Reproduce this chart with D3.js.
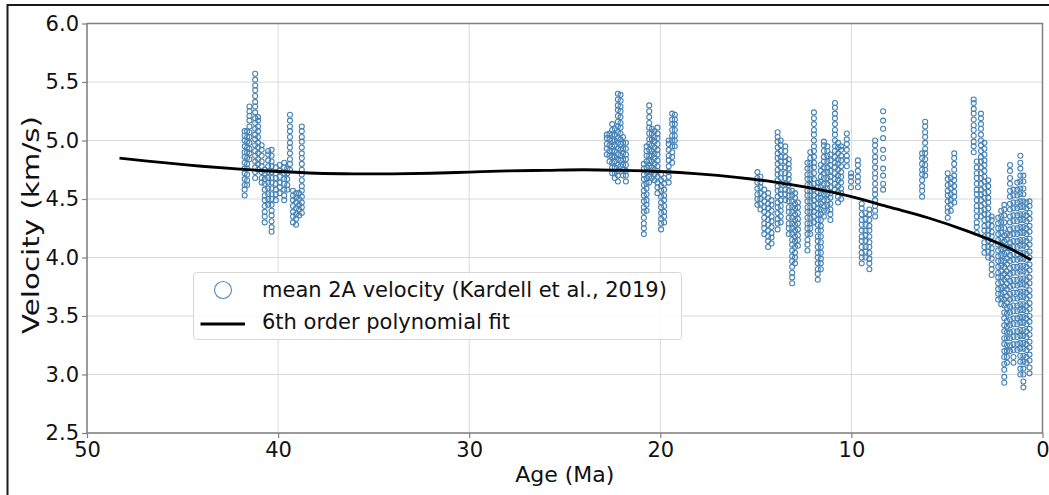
<!DOCTYPE html>
<html>
<head>
<meta charset="utf-8">
<script src="https://cdn.jsdelivr.net/npm/d3@7"></script>
<style>
  html, body { margin: 0; padding: 0; background: #fff; }
  svg { display: block; }
  text { font-family: "DejaVu Sans", sans-serif; fill: #111; }
</style>
</head>
<body>
<svg id="chart" width="1049" height="495"></svg>
<script>
// ---------------- data ----------------
const xTicks = [50, 40, 30, 20, 10, 0];
const yTicks = [2.5, 3.0, 3.5, 4.0, 4.5, 5.0, 5.5, 6.0];
const xLabel = "Age (Ma)";
const yLabel = "Velocity (km/s)";
const legendLabels = ["mean 2A velocity (Kardell et al., 2019)", "6th order polynomial fit"];

// 6th order polynomial fit
const fitAge = [48.3, 46, 44, 42, 40, 38, 36, 34, 32, 30, 28, 26, 24, 22, 20, 18, 16, 14, 12, 10, 8, 6, 4, 2, 0.6];
const fitVel = [4.85, 4.81, 4.78, 4.755, 4.735, 4.72, 4.715, 4.715, 4.72, 4.73, 4.74, 4.745, 4.75, 4.745, 4.735, 4.715, 4.685, 4.645, 4.59, 4.52, 4.43, 4.34, 4.23, 4.10, 3.98];

// mean 2A velocity samples: [age, [velocities at that age]]
const samplesOld = [
  [41.75, [4.53,4.58,4.62,4.67,4.72,4.76,4.81,4.86,4.90,4.95,5.00,5.04,5.08]],
  [41.62, [4.62,4.66,4.71,4.76,4.80,4.85,4.90,4.94,4.99,5.03,5.08]],
  [41.50, [4.84,4.89,4.93,4.98,5.03,5.07,5.12,5.17,5.21,5.25,5.29]],
  [41.20, [4.68,4.73,4.77,4.82,4.87,4.91,4.96,5.01,5.05,5.10,5.15,5.19,5.24,5.29,5.33,5.38,5.43,5.47,5.52,5.57]],
  [41.05, [4.75,4.80,4.84,4.89,4.94,4.98,5.03,5.08,5.12,5.17,5.20]],
  [40.86, [4.64,4.68,4.73,4.78,4.82,4.87,4.92,4.96]],
  [40.70, [4.30,4.35,4.39,4.44,4.49,4.53,4.58,4.63,4.67,4.72,4.75]],
  [40.52, [4.45,4.50,4.54,4.59,4.64,4.68,4.73,4.78,4.83,4.88,4.91]],
  [40.34, [4.22,4.26,4.31,4.36,4.40,4.45,4.50,4.54,4.59,4.64,4.68,4.73,4.78,4.82,4.87,4.92]],
  [40.12, [4.49,4.54,4.58,4.63,4.68,4.72,4.77]],
  [39.92, [4.55,4.60,4.64,4.69,4.74,4.79]],
  [39.68, [4.49,4.53,4.58,4.63,4.67,4.72,4.77,4.81]],
  [39.52, [4.58,4.62,4.67,4.72,4.76]],
  [39.38, [4.75,4.80,4.84,4.89,4.94,4.98,5.03,5.08,5.12,5.17,5.22]],
  [39.22, [4.30,4.35,4.39,4.44,4.49,4.53,4.57]],
  [39.06, [4.28,4.33,4.37,4.42,4.47,4.51,4.55]],
  [38.90, [4.36,4.41,4.45,4.50,4.55]],
  [38.76, [4.38,4.43,4.47,4.52,4.57,4.61,4.66,4.71,4.75,4.80,4.85,4.89,4.94,4.99,5.03,5.08,5.12]]
];

const samplesMid = [
  [22.80, [4.88,4.93,4.97,5.02,5.05]],
  [22.66, [4.82,4.87,4.91,4.96,5.01,5.06]],
  [22.52, [4.72,4.77,4.81,4.86,4.91,4.95,5.00,5.05,5.09,5.14]],
  [22.38, [4.68,4.72,4.77,4.82,4.86,4.91,4.96,5.00,5.05,5.10]],
  [22.22, [4.65,4.70,4.74,4.79,4.84,4.88,4.93,4.98,5.02,5.07,5.12,5.16,5.21,5.26,5.30,5.35,5.40]],
  [22.08, [4.78,4.83,4.87,4.92,4.97,5.01,5.06,5.11,5.15,5.20,5.25,5.29,5.34,5.39]],
  [21.95, [4.70,4.75,4.79,4.84,4.89,4.93,4.98,5.03]],
  [21.80, [4.65,4.70,4.74,4.79,4.84,4.88,4.93,4.98]],
  [20.86, [4.20,4.25,4.29,4.34,4.39,4.43,4.48,4.53,4.57,4.62,4.67,4.71,4.76,4.80]],
  [20.72, [4.40,4.45,4.49,4.54,4.59,4.63,4.68,4.73,4.77,4.82,4.87,4.91,4.95]],
  [20.58, [4.64,4.69,4.73,4.78,4.83,4.87,4.92,4.97,5.01,5.06,5.11,5.15,5.20,5.25,5.30]],
  [20.44, [4.68,4.73,4.77,4.82,4.87,4.91,4.96,5.01,5.06,5.10]],
  [20.30, [4.66,4.71,4.75,4.80,4.85,4.89,4.94,4.99,5.03,5.08]],
  [20.15, [4.55,4.60,4.64,4.69,4.74,4.78,4.83,4.88,4.92,4.97,5.02,5.06,5.11]],
  [19.96, [4.24,4.29,4.33,4.38,4.43,4.47,4.52,4.57,4.61,4.66,4.71]],
  [19.80, [4.30,4.35,4.39,4.44,4.49,4.53,4.58,4.63,4.68]],
  [19.56, [4.64,4.69,4.73,4.78,4.83,4.87,4.92,4.97,5.00]],
  [19.38, [4.81,4.86,4.90,4.95,5.00,5.04,5.09,5.14,5.18,5.23]],
  [19.24, [4.95,5.00,5.04,5.09,5.14,5.18,5.22]]
];

const samplesYoung = [
  [14.92, [4.45,4.50,4.54,4.59,4.64,4.68,4.73]],
  [14.76, [4.41,4.46,4.50,4.55,4.60,4.64,4.69]],
  [14.56, [4.20,4.25,4.29,4.34,4.39,4.43,4.48,4.53,4.58]],
  [14.36, [4.09,4.14,4.18,4.23,4.28,4.32,4.37,4.42,4.46,4.51,4.55]],
  [14.18, [4.12,4.17,4.21,4.26,4.31,4.35,4.40,4.45,4.49]],
  [13.86, [4.24,4.29,4.33,4.38,4.43,4.47,4.52,4.57,4.61,4.66,4.71,4.75,4.80,4.85,4.89,4.94,4.99,5.03,5.07]],
  [13.70, [4.30,4.35,4.40,4.44,4.49,4.54,4.58,4.63,4.68,4.72,4.77,4.82,4.86,4.91,4.96,5.00]],
  [13.46, [4.49,4.54,4.58,4.63,4.68,4.72,4.77,4.82,4.86,4.91,4.95]],
  [13.28, [4.20,4.25,4.29,4.34,4.39,4.43,4.48,4.53,4.57,4.62,4.67,4.71,4.76,4.80,4.84]],
  [13.10, [3.78,3.83,3.87,3.92,3.97,4.01,4.06,4.11,4.15,4.20,4.25,4.29,4.34,4.39,4.43,4.48,4.53,4.57]],
  [12.95, [3.95,4.00,4.04,4.09,4.14,4.18,4.23,4.28,4.32,4.37,4.42,4.46,4.51,4.55]],
  [12.80, [4.10,4.15,4.19,4.24,4.29,4.33,4.38,4.43,4.47]],
  [12.30, [4.06,4.11,4.15,4.20,4.25,4.29,4.34,4.39,4.43,4.48,4.53,4.57,4.62,4.67,4.71,4.76,4.81]],
  [12.15, [4.20,4.25,4.29,4.34,4.39,4.43,4.48,4.53,4.57,4.62,4.67,4.71,4.76,4.81,4.85,4.90]],
  [11.96, [4.30,4.35,4.39,4.44,4.49,4.53,4.58,4.63,4.67,4.72,4.77,4.81,4.86,4.91,4.95,5.00,5.05,5.09,5.14,5.19,5.24]],
  [11.76, [3.81,3.86,3.90,3.95,4.00,4.04,4.09,4.14,4.18,4.23,4.28,4.32,4.37,4.42,4.46,4.51,4.56,4.60,4.64]],
  [11.60, [3.90,3.95,3.99,4.04,4.09,4.13,4.18,4.23,4.27,4.32,4.37,4.41,4.46,4.51,4.55,4.60,4.65,4.69,4.74,4.79]],
  [11.44, [4.35,4.40,4.44,4.49,4.54,4.58,4.63,4.68,4.72,4.77,4.82,4.86,4.91,4.96,4.99]],
  [11.26, [4.40,4.45,4.49,4.54,4.59,4.63,4.68,4.73,4.77,4.82,4.87,4.91,4.95]],
  [11.10, [4.32,4.37,4.41,4.46,4.51,4.55,4.60,4.65,4.69,4.74,4.79,4.83,4.88]],
  [10.86, [4.58,4.63,4.67,4.72,4.77,4.81,4.86,4.91,4.95,5.00,5.05,5.09,5.14,5.19,5.23,5.28,5.32]],
  [10.70, [4.47,4.52,4.56,4.61,4.66,4.70,4.75,4.80,4.84,4.89,4.94,4.98]],
  [10.54, [4.50,4.55,4.59,4.64,4.69,4.73,4.78,4.83,4.87,4.92,4.95]],
  [10.24, [4.78,4.83,4.87,4.92,4.97,5.01,5.06]],
  [10.02, [4.60,4.65,4.69,4.72]],
  [9.66, [4.60,4.65,4.69,4.74,4.79,4.83]],
  [9.46, [3.95,4.00,4.04,4.09,4.14,4.18,4.23,4.28,4.32,4.37,4.42,4.46]],
  [9.26, [4.00,4.05,4.09,4.14,4.19,4.23,4.28,4.33,4.38]],
  [9.06, [3.90,3.95,3.99,4.04,4.09,4.13,4.18,4.23,4.27,4.32,4.37,4.41]],
  [8.76, [4.35,4.40,4.44,4.49,4.54,4.58,4.63,4.68,4.72,4.77,4.82,4.86,4.91,4.96,5.00]],
  [8.34, [4.58,4.63,4.70,4.76,4.85,4.92,5.02,5.10,5.17,5.25]],
  [6.30, [4.52,4.57,4.61,4.66,4.71,4.75,4.80,4.85,4.89]],
  [6.14, [4.70,4.75,4.79,4.84,4.89,4.93,4.98,5.03,5.07,5.12,5.16]],
  [4.96, [4.34,4.39,4.43,4.48,4.53,4.57,4.62,4.67,4.72]],
  [4.80, [4.40,4.45,4.49,4.54,4.59,4.63,4.68]],
  [4.62, [4.47,4.52,4.56,4.61,4.66,4.70,4.75,4.80,4.85,4.89]],
  [3.60, [4.90,4.95,4.99,5.04,5.09,5.13,5.18,5.23,5.27,5.32,5.35]],
  [3.44, [4.21,4.26,4.30,4.35,4.40,4.44,4.49,4.54,4.58,4.63,4.68,4.72,4.77,4.82]],
  [3.22, [4.35,4.40,4.44,4.49,4.54,4.58,4.63,4.68,4.72,4.77,4.82,4.86,4.91,4.96,5.00,5.05,5.10,5.14,5.19,5.23]],
  [3.04, [4.04,4.09,4.13,4.18,4.23,4.27,4.32,4.37,4.41,4.46,4.51,4.55,4.60,4.65,4.69,4.74,4.79,4.83,4.88,4.93,4.98]],
  [2.84, [4.00,4.05,4.09,4.14,4.19,4.23,4.28,4.33,4.37,4.42,4.47,4.51,4.56,4.61,4.66]],
  [2.66, [3.85,3.90,3.94,3.99,4.04,4.08,4.13,4.18,4.22,4.27,4.32,4.35]],
  [2.32, [3.64,3.69,3.73,3.78,3.83,3.87,3.92,3.97,4.01,4.06,4.11,4.15,4.20,4.25,4.29,4.34]],
  [2.16, [3.60,3.65,3.69,3.74,3.79,3.83,3.88,3.93,3.97,4.02,4.07,4.11,4.16,4.21,4.25,4.30,4.35,4.40]],
  [2.00, [2.93,2.98,3.04,3.09,3.15,3.20,3.26,3.31,3.37,3.42,3.48,3.53,3.59,3.64,3.70,3.75,3.81,3.86,3.92,3.97,4.03,4.08,4.14,4.19,4.25,4.30,4.36,4.41,4.45]],
  [1.86, [3.10,3.15,3.20,3.25,3.31,3.36,3.41,3.46,3.52,3.57,3.62,3.67,3.73,3.78,3.83,3.88,3.94,3.99,4.04,4.09,4.15,4.20]],
  [1.70, [3.20,3.25,3.31,3.36,3.42,3.47,3.53,3.58,3.64,3.69,3.75,3.80,3.86,3.91,3.97,4.02,4.08,4.13,4.19,4.24,4.30,4.35,4.41,4.46,4.52,4.57,4.63,4.68,4.74,4.79]],
  [1.52, [3.10,3.15,3.21,3.26,3.32,3.37,3.43,3.48,3.54,3.59,3.65,3.70,3.76,3.81,3.87,3.92,3.98,4.03,4.09,4.14,4.20,4.25,4.31,4.36,4.42,4.47,4.53,4.58]],
  [1.32, [3.21,3.26,3.32,3.37,3.43,3.48,3.54,3.59,3.65,3.70,3.76,3.81,3.87,3.92,3.98,4.03,4.09,4.14,4.20,4.25,4.31,4.36,4.42,4.47,4.53,4.58,4.64]],
  [1.16, [3.00,3.05,3.11,3.16,3.22,3.27,3.33,3.38,3.44,3.49,3.55,3.60,3.66,3.71,3.77,3.82,3.88,3.93,3.99,4.04,4.10,4.15,4.21,4.26,4.32,4.37,4.43,4.48,4.54,4.59,4.65,4.70,4.76,4.81,4.87]],
  [1.00, [2.89,2.94,3.00,3.05,3.11,3.16,3.22,3.27,3.33,3.38,3.44,3.49,3.55,3.60,3.66,3.71,3.77,3.82,3.88,3.93,3.99,4.04,4.10,4.15,4.21,4.26,4.32,4.37,4.43,4.48,4.54,4.59,4.65,4.70]],
  [0.84, [3.10,3.15,3.21,3.26,3.32,3.37,3.43,3.48,3.54,3.59,3.65,3.70,3.76,3.81,3.87,3.92,3.98,4.03,4.09,4.14,4.20,4.25,4.31,4.36,4.42,4.47]],
  [0.68, [3.01,3.06,3.12,3.17,3.23,3.28,3.34,3.39,3.45,3.50,3.56,3.61,3.67,3.72,3.78,3.83,3.89,3.94,4.00,4.05,4.11,4.16,4.22,4.27,4.33,4.38,4.44,4.48]]
];

// ---------------- drawing ----------------
const W = 1049, H = 495;
const svg = d3.select("#chart");
const plot = { left: 87, right: 1042.5, top: 23.5, bottom: 433 };

const x = d3.scaleLinear().domain([50, 0]).range([plot.left, plot.right]);
const y = d3.scaleLinear().domain([2.5, 6.0]).range([plot.bottom, plot.top]);

svg.append("rect").attr("width", W).attr("height", H).attr("fill", "#fff");

// outer figure frame (left & top visible)
svg.append("path")
  .attr("d", `M7.5,${H + 2} V5 H${W + 2}`)
  .attr("fill", "none").attr("stroke", "#1a1a1a").attr("stroke-width", 2);

// gridlines
const grid = svg.append("g");
grid.selectAll("line.gx").data(xTicks).join("line")
  .attr("x1", d => x(d)).attr("x2", d => x(d))
  .attr("y1", plot.top).attr("y2", plot.bottom)
  .attr("stroke", "#d9d9d9").attr("stroke-width", 1);
grid.selectAll("line.gy").data(yTicks).join("line")
  .attr("x1", plot.left).attr("x2", plot.right)
  .attr("y1", d => y(d)).attr("y2", d => y(d))
  .attr("stroke", "#d9d9d9").attr("stroke-width", 1);

// scatter
const allSamples = [...samplesOld, ...samplesMid, ...samplesYoung];
const pts = allSamples.flatMap(([age, vs]) => vs.map(v => ({ age, v })));
svg.append("g").selectAll("circle").data(pts).join("circle")
  .attr("cx", d => x(d.age)).attr("cy", d => y(d.v))
  .attr("r", 2.5)
  .attr("fill", "none").attr("stroke", "#4682b4").attr("stroke-width", 1.1);

// fit line
const fit = fitAge.map((a, i) => ({ age: a, v: fitVel[i] }));
svg.append("path").datum(fit)
  .attr("d", d3.line().x(d => x(d.age)).y(d => y(d.v)).curve(d3.curveCatmullRom))
  .attr("fill", "none").attr("stroke", "#000").attr("stroke-width", 2.8);

// axes
const axColor = "#808080";
const gx = svg.append("g").attr("transform", `translate(0,${plot.bottom})`)
  .call(d3.axisBottom(x).tickValues(xTicks).tickSize(5).tickPadding(4).tickFormat(d3.format("d")));
const gy = svg.append("g").attr("transform", `translate(${plot.left},0)`)
  .call(d3.axisLeft(y).tickValues(yTicks).tickSize(5).tickPadding(3).tickFormat(d3.format(".1f")));
[gx, gy].forEach(g => {
  g.select(".domain").remove();
  g.selectAll(".tick line").attr("stroke", axColor).attr("stroke-width", 1.2);
  g.selectAll(".tick text").attr("fill", "#111").style("font-size", "21px").style("font-family", "DejaVu Sans");
});

// spines
svg.append("rect")
  .attr("x", plot.left).attr("y", plot.top)
  .attr("width", plot.right - plot.left).attr("height", plot.bottom - plot.top)
  .attr("fill", "none").attr("stroke", axColor).attr("stroke-width", 1.5);

// axis labels
svg.append("text").text(xLabel)
  .attr("x", (plot.left + plot.right) / 2).attr("y", 482)
  .attr("text-anchor", "middle").style("font-size", "22px");
svg.append("text").text(yLabel)
  .attr("transform", `translate(39,225) rotate(-90)`)
  .attr("text-anchor", "middle")
  .attr("textLength", 218).attr("lengthAdjust", "spacingAndGlyphs")
  .style("font-size", "23px");

// legend
const lg = svg.append("g");
lg.append("rect")
  .attr("x", 193.5).attr("y", 272.5).attr("width", 488).attr("height", 67).attr("rx", 3)
  .attr("fill", "#fff").attr("fill-opacity", 0.85)
  .attr("stroke", "#d6d6d6").attr("stroke-width", 1);
lg.append("circle").attr("cx", 223).attr("cy", 290).attr("r", 8.5)
  .attr("fill", "none").attr("stroke", "#5b8fc4").attr("stroke-width", 1.2);
lg.append("line").attr("x1", 200.5).attr("x2", 245).attr("y1", 324).attr("y2", 324)
  .attr("stroke", "#000").attr("stroke-width", 2.8);
lg.append("text").text(legendLabels[0]).attr("x", 262).attr("y", 297).style("font-size", "21px");
lg.append("text").text(legendLabels[1]).attr("x", 262).attr("y", 329).style("font-size", "21px");
</script>
</body>
</html>
